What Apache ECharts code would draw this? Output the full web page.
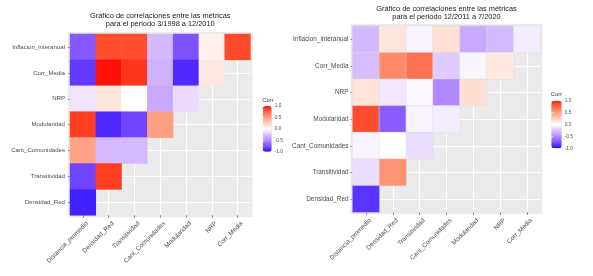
<!DOCTYPE html>
<html><head><meta charset="utf-8">
<script src="https://cdn.jsdelivr.net/npm/echarts@6/dist/echarts.min.js"></script>
<style>html,body{margin:0;padding:0;background:#fff;}#c{width:593px;height:276px;}</style>
</head><body><div id="c"></div>
<script>
// ---------- DATA ----------
const xCategories = ['Distancia_promedio','Densidad_Red','Transitividad','Cant_Comunidades','Modularidad','NRP','Corr_Media'];
const yCategories = ['Inflacion_interanual','Corr_Media','NRP','Modularidad','Cant_Comunidades','Transitividad','Densidad_Red']; // top to bottom
const leftTitle = 'Gráfico de correlaciones entre las métricas\npara el periodo 3/1998 a 12/2010';
const rightTitle = 'Gráfico de correlaciones entre las métricas\npara el periodo 12/2011 a 7/2020';
const legendName = 'Corr';
const legendTicks = [-1, -0.5, 0, 0.5, 1];

// Period 3/1998 - 12/2010 (rows top to bottom, values along x categories)
const p1_Inflacion_interanual = [-0.72, 0.85, 0.85, -0.30, -0.75, 0.07, 0.86];
const p1_Corr_Media           = [-0.85, 0.98, 0.92, -0.33, -0.90, 0.12];
const p1_NRP                  = [-0.12, 0.13, 0.00, -0.37, -0.15];
const p1_Modularidad          = [0.90, -0.90, -0.80, 0.50];
const p1_Cant_Comunidades     = [0.48, -0.30, -0.30];
const p1_Transitividad        = [-0.80, 0.90];
const p1_Densidad_Red         = [-0.93];

// Period 12/2011 - 7/2020
const p2_Inflacion_interanual = [-0.30, 0.13, -0.04, 0.17, -0.37, -0.30, -0.08];
const p2_Corr_Media           = [-0.28, 0.60, 0.70, -0.22, -0.04, 0.11];
const p2_NRP                  = [0.15, -0.10, -0.03, -0.52, 0.17];
const p2_Modularidad          = [0.85, -0.70, -0.05, -0.08];
const p2_Cant_Comunidades     = [-0.05, 0.00, -0.14];
const p2_Transitividad        = [-0.14, 0.55];
const p2_Densidad_Red         = [-0.87];

const p1Rows = [p1_Inflacion_interanual, p1_Corr_Media, p1_NRP, p1_Modularidad, p1_Cant_Comunidades, p1_Transitividad, p1_Densidad_Red];
const p2Rows = [p2_Inflacion_interanual, p2_Corr_Media, p2_NRP, p2_Modularidad, p2_Cant_Comunidades, p2_Transitividad, p2_Densidad_Red];

function toCells(rows) {
  const out = [];
  rows.forEach((vals, r) => vals.forEach((v, c) => out.push([c, r, v])));
  return out;
}

// ---------- colour scale (blue - white - red, Lab interpolation like ggplot) ----------
function s2l(c){c/=255;return c<=0.04045?c/12.92:Math.pow((c+0.055)/1.055,2.4);}
function l2s(c){c=c<=0.0031308?12.92*c:1.055*Math.pow(c,1/2.4)-0.055;return Math.max(0,Math.min(255,Math.round(c*255)));}
function rgb2lab(rgb){
  const [r,g,b]=rgb.map(s2l);
  let X=(0.4124*r+0.3576*g+0.1805*b)/0.95047, Y=(0.2126*r+0.7152*g+0.0722*b), Z=(0.0193*r+0.1192*g+0.9505*b)/1.08883;
  const f=t=>t>0.008856?Math.cbrt(t):7.787*t+16/116;
  const fx=f(X),fy=f(Y),fz=f(Z);
  return [116*fy-16,500*(fx-fy),200*(fy-fz)];
}
function lab2rgb(lab){
  const fy=(lab[0]+16)/116, fx=fy+lab[1]/500, fz=fy-lab[2]/200;
  const fi=t=>t*t*t>0.008856?t*t*t:(t-16/116)/7.787;
  const X=fi(fx)*0.95047, Y=fi(fy), Z=fi(fz)*1.08883;
  const r=3.2406*X-1.5372*Y-0.4986*Z, g=-0.9689*X+1.8758*Y+0.0415*Z, b=0.0557*X-0.2040*Y+1.0570*Z;
  return 'rgb('+l2s(r)+','+l2s(g)+','+l2s(b)+')';
}
const LW=rgb2lab([255,255,255]), LB=rgb2lab([0,0,255]), LR=rgb2lab([255,0,0]);
const rampColors=[];
for(let i=0;i<=40;i++){
  const t=-1+i/20; const a=Math.abs(t); const end=t<0?LB:LR;
  rampColors.push(lab2rgb([0,1,2].map(k=>LW[k]+(end[k]-LW[k])*a)));
}

// ---------- LAYOUT ----------
const FONT='"Liberation Sans", Arial, sans-serif';
const L={cx:70, cy:34, cw:180.5, ch:181.3, yFont:6.1, yMargin:5, xFont:6.3};
const R={cx:352.5, cy:26, cw:188, ch:186.3, yFont:6.4, yMargin:4, xFont:6.3};
const LEG1={x:262.7, y:106, w:9, h:45.7};
const LEG2={x:551.3, y:100.7, w:10.4, h:47.6};

const chart=echarts.init(document.getElementById('c'),null,{renderer:'canvas'});

function panelGrid(p){return {left:p.cx, top:p.cy, width:p.cw, height:p.ch, outerBoundsMode:'none', containLabel:false};}
function catX(idx,p){return {gridIndex:idx,type:'category',data:xCategories,
  axisLine:{show:false}, axisTick:{show:true,alignWithLabel:true,length:2.5,lineStyle:{color:'#444',width:0.6}},
  splitLine:{show:true,alignWithLabel:true,lineStyle:{color:'#ffffff',width:1}},
  axisLabel:{interval:0,rotate:45,fontSize:p.xFont,color:'#4d4d4d',fontFamily:FONT,margin:3,verticalAlign:'top',padding:[3,0,0,0]}};}
function catY(idx,p){return {gridIndex:idx,type:'category',data:yCategories,inverse:true,
  axisLine:{show:false}, axisTick:{show:true,alignWithLabel:true,length:2,lineStyle:{color:'#444',width:0.6}},
  splitLine:{show:true,alignWithLabel:true,lineStyle:{color:'#ffffff',width:1}},
  axisLabel:{interval:0,fontSize:p.yFont,color:'#4d4d4d',fontFamily:FONT,margin:p.yMargin}};}
function legGrid(g){return {left:g.x, top:g.y, width:g.w, height:g.h, outerBoundsMode:'none', containLabel:false};}
function legY(idx,pos,labels){return {gridIndex:idx,type:'value',min:legendTicks[0],max:legendTicks[legendTicks.length-1],interval:0.5,position:pos,z:10,
  axisLine:{show:false}, splitLine:{show:false},
  axisTick:{show:true,inside:true,length:1.8,lineStyle:{color:'#ffffff',width:0.6}},
  axisLabel:{show:labels,fontSize:4.8,color:'#4d4d4d',fontFamily:FONT,margin:3,formatter:v=>v.toFixed(1)}};}

const option={
  animation:false,
  backgroundColor:'#ffffff',
  title:[
    {text:leftTitle,left:L.cx+L.cw/2,textAlign:'center',top:12,padding:0,textStyle:{fontSize:7.4,lineHeight:8,fontWeight:'normal',color:'#1a1a1a',fontFamily:FONT}},
    {text:rightTitle,left:R.cx+R.cw/2,textAlign:'center',top:4.8,padding:0,textStyle:{fontSize:7.4,lineHeight:8,fontWeight:'normal',color:'#1a1a1a',fontFamily:FONT}},
    {text:legendName,left:LEG1.x-0.5,top:LEG1.y-9,padding:0,textStyle:{fontSize:5.8,fontWeight:'normal',color:'#333',fontFamily:FONT}},
    {text:legendName,left:LEG2.x-0.5,top:LEG2.y-9,padding:0,textStyle:{fontSize:5.8,fontWeight:'normal',color:'#333',fontFamily:FONT}}
  ],
  graphic:[
    {type:'rect',z:-5,silent:true,shape:{x:L.cx-2,y:L.cy-2,width:L.cw+4,height:L.ch+4},style:{fill:'#ebebeb'}},
    {type:'rect',z:-5,silent:true,shape:{x:R.cx-2,y:R.cy-2,width:R.cw+4,height:R.ch+4},style:{fill:'#ebebeb'}}
  ],
  grid:[panelGrid(L),panelGrid(R),legGrid(LEG1),legGrid(LEG2)],
  xAxis:[catX(0,L),catX(1,R),{gridIndex:2,type:'value',show:false},{gridIndex:3,type:'value',show:false}],
  yAxis:[catY(0,L),catY(1,R),legY(2,'right',true),legY(2,'left',false),legY(3,'right',true),legY(3,'left',false)],
  visualMap:[
    {type:'continuous',seriesIndex:0,min:-1,max:1,calculable:false,orient:'vertical',left:LEG1.x,top:LEG1.y,itemWidth:LEG1.w,itemHeight:LEG1.h,padding:0,text:null,showLabel:false,inRange:{color:rampColors}},
    {type:'continuous',seriesIndex:1,min:-1,max:1,calculable:false,orient:'vertical',left:LEG2.x,top:LEG2.y,itemWidth:LEG2.w,itemHeight:LEG2.h,padding:0,text:null,showLabel:false,inRange:{color:rampColors}}
  ],
  series:[
    {type:'heatmap',xAxisIndex:0,yAxisIndex:0,data:toCells(p1Rows),itemStyle:{borderWidth:0},emphasis:{disabled:true}},
    {type:'heatmap',xAxisIndex:1,yAxisIndex:1,data:toCells(p2Rows),itemStyle:{borderColor:'#dcdcdc',borderWidth:0.5},emphasis:{disabled:true}}
  ]
};
chart.setOption(option);
</script>
</body></html>
